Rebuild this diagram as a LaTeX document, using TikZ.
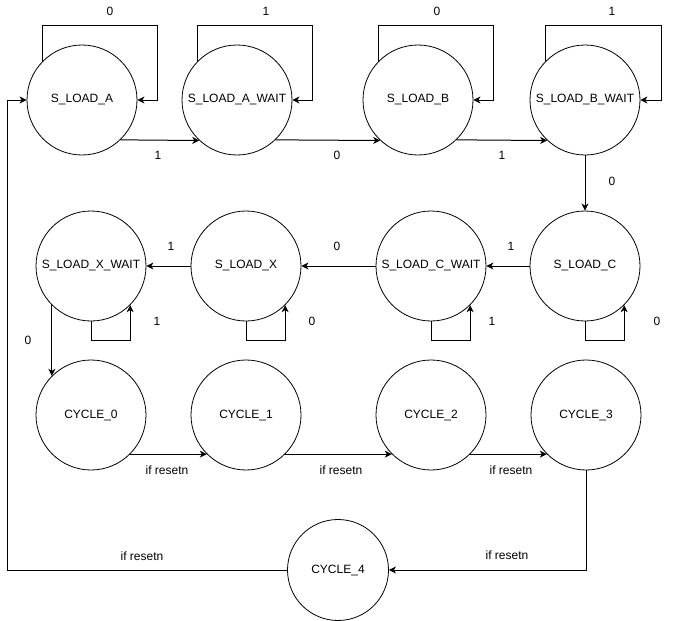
\documentclass[tikz,border=0pt]{standalone}
\usepackage{fontspec}
\setmainfont{Liberation Sans}
\usetikzlibrary{arrows.meta,calc}
\begin{document}
\begin{tikzpicture}[x=1pt,y=-1pt,
  state/.style={draw,circle,line width=0.8pt,minimum size=110pt,inner sep=0pt,font=\fontsize{12}{14}\selectfont},
  smallstate/.style={state,minimum size=101pt},
  arr/.style={draw,line width=1pt,-{Stealth[length=7pt,width=7pt,inset=2pt]}},
  lbl/.style={font=\fontsize{12}{14}\selectfont,inner sep=0pt}]
\useasboundingbox (0,0) rectangle (678,621);
% states
\node[state] (A)  at (82,100)  {S\_LOAD\_A};
\node[state] (AW) at (237,100) {S\_LOAD\_A\_WAIT};
\node[state] (B)  at (418,100) {S\_LOAD\_B};
\node[state] (BW) at (585,100) {S\_LOAD\_B\_WAIT};
\node[state] (XW) at (91,266)  {S\_LOAD\_X\_WAIT};
\node[state] (X)  at (246,266) {S\_LOAD\_X};
\node[state] (CW) at (431,266) {S\_LOAD\_C\_WAIT};
\node[state] (C)  at (585,266) {S\_LOAD\_C};
\node[state] (C0) at (91,415)  {CYCLE\_0};
\node[state] (C1) at (246,415) {CYCLE\_1};
\node[state] (C2) at (431,415) {CYCLE\_2};
\node[state] (C3) at (586,415) {CYCLE\_3};
\node[smallstate] (C4) at (338,570) {CYCLE\_4};
% row 1 self loops
\draw[arr] (A.135)  |- ($(A)+(75,-75)$)  |- (A.east);
\draw[arr] (AW.135) |- ($(AW)+(75,-75)$) |- (AW.east);
\draw[arr] (B.135)  |- ($(B)+(75,-75)$)  |- (B.east);
\draw[arr] (BW.135) |- ($(BW)+(76,-75)$) |- (BW.east);
% row 1 transitions
\draw[arr] (A.-46.7)  -- (AW.-133.3);
\draw[arr] (AW.-46.7) -- (B.-133.3);
\draw[arr] (B.-46.7)  -- (BW.-133.3);
\draw[arr] (BW.south) -- (C.north);
% row 2 transitions
\draw[arr] (C.west)  -- (CW.east);
\draw[arr] (CW.west) -- (X.east);
\draw[arr] (X.west)  -- (XW.east);
% row 2 self loops
\draw[arr] (C.south)  -- ++(0,19) -| (C.-45);
\draw[arr] (CW.south) -- ++(0,19) -| (CW.-45);
\draw[arr] (X.south)  -- ++(0,19) -| (X.-45);
\draw[arr] (XW.south) -- ++(0,19) -| (XW.-45);
\draw[arr] (XW.-135) -- (C0.135);
% row 3
\draw[arr] (C0.-45) -- (C1.-135);
\draw[arr] (C1.-45) -- (C2.-135);
\draw[arr] (C2.-45) -- (C3.-135);
\draw[arr] (C3.south) |- (C4.east);
\coordinate (back) at (7,570);
\draw[arr] (C4.west) -- (back) |- (A.west);
% labels
\node[lbl] at (110,11) {0};
\node[lbl] at (266,11) {1};
\node[lbl] at (437,11) {0};
\node[lbl] at (612,11) {1};
\node[lbl] at (158,155) {1};
\node[lbl] at (337,155) {0};
\node[lbl] at (502,155) {1};
\node[lbl] at (612,181) {0};
\node[lbl] at (511,246) {1};
\node[lbl] at (337,246) {0};
\node[lbl] at (171,246) {1};
\node[lbl] at (657,321) {0};
\node[lbl] at (492,321) {1};
\node[lbl] at (312,321) {0};
\node[lbl] at (157,321) {1};
\node[lbl] at (28,340) {0};
\node[lbl] at (167,470) {if resetn};
\node[lbl] at (341,470) {if resetn};
\node[lbl] at (511,470) {if resetn};
\node[lbl] at (507,555) {if resetn};
\node[lbl] at (142,556) {if resetn};
\end{tikzpicture}
\end{document}
